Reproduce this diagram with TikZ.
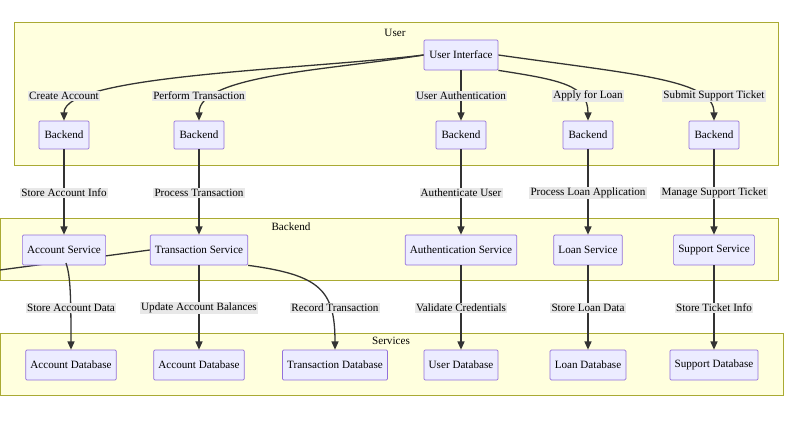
\documentclass[tikz,border=0pt]{standalone}
\usepackage{fontspec}
\setmainfont{Liberation Serif}
\usetikzlibrary{arrows.meta}
\definecolor{clfill}{HTML}{FFFFDE}
\definecolor{cldraw}{HTML}{AAAA33}
\definecolor{nfill}{HTML}{ECECFF}
\definecolor{ndraw}{HTML}{9370DB}
\definecolor{lbl}{HTML}{E8E8E8}
\definecolor{ln}{HTML}{333333}
\pgfdeclarelayer{back}\pgfdeclarelayer{mid}
\pgfsetlayers{back,mid,main}
\begin{document}
\begin{tikzpicture}[x=0.03cm,y=-0.03cm,
  cl/.style={draw=cldraw,fill=clfill,line width=0.5pt},
  nd/.style={draw=ndraw,fill=nfill,line width=0.6pt,rounded corners=1pt,minimum height=28*0.03cm,inner xsep=4pt,font=\fontsize{9.5}{11}\selectfont},
  el/.style={fill=lbl,inner sep=1pt,font=\fontsize{9.5}{11}\selectfont},
  ct/.style={font=\fontsize{9.5}{11}\selectfont},
  e/.style={draw=ln,line width=1.1pt,-{Triangle[length=7pt,width=6pt]}},
  p/.style={draw=ln,line width=1.1pt}]
\useasboundingbox (0,0) rectangle (800,438);
\begin{pgfonlayer}{back}
\draw[cl] (14,22) rectangle (778,165);
\draw[cl] (0,218) rectangle (778,280);
\draw[cl] (0,333) rectangle (783,395);
\end{pgfonlayer}
\node[ct] (tU) at (395,33) {User};
\node[ct] (tB) at (291,227) {Backend};
\node[ct] (tS) at (391,341) {Services};

\node[nd,minimum width=74*0.03cm,minimum height=30*0.03cm] (ui) at (461,55) {User Interface};
\foreach \n/\x in {b1/64,b2/199,b3/461,b4/588,b5/714}
  \node[nd,minimum width=50*0.03cm] (\n) at (\x,135) {Backend};
\node[nd,minimum height=30*0.03cm] (s1) at (64,250) {Account Service};
\node[nd,minimum height=30*0.03cm] (s2) at (199,250) {Transaction Service};
\node[nd,minimum height=30*0.03cm] (s3) at (461,250) {Authentication Service};
\node[nd,minimum height=30*0.03cm] (s4) at (588,250) {Loan Service};
\node[nd,minimum height=30*0.03cm] (s5) at (714,250) {Support Service};
\node[nd,minimum height=30*0.03cm] (d1) at (71,365) {Account Database};
\node[nd,minimum height=30*0.03cm] (d2) at (199,365) {Account Database};
\node[nd,minimum height=30*0.03cm] (d3) at (335,365) {Transaction Database};
\node[nd,minimum height=30*0.03cm] (d4) at (461,365) {User Database};
\node[nd,minimum height=30*0.03cm] (d5) at (588,365) {Loan Database};
\node[nd,minimum height=30*0.03cm] (d6) at (714,365) {Support Database};

% top edges
\draw[e] (ui.west) .. controls (300,70) and (64,75) .. (b1.north);
\draw[e] (ui.west) .. controls (330,70) and (199,75) .. (b2.north);
\draw[e] (ui.south) -- (b3.north);
\draw[e] (ui.south east) .. controls (560,80) and (588,85) .. (b4.north);
\draw[e] (ui.east) .. controls (640,75) and (714,80) .. (b5.north);
\node[el] (l1) at (64,96) {Create Account};
\node[el] (l2) at (199,96) {Perform Transaction};
\node[el] (l3) at (461,96) {User Authentication};
\node[el] (l4) at (588,96) {Apply for Loan};
\node[el] (l5) at (714,96) {Submit Support Ticket};

% middle
\foreach \a/\b in {b1/s1,b2/s2,b3/s3,b4/s4,b5/s5} \draw[e] (\a) -- (\b);
\node[el] (m1) at (64,193) {Store Account Info};
\node[el] (m2) at (199,193) {Process Transaction};
\node[el] (m3) at (461,193) {Authenticate User};
\node[el] (m4) at (588,193) {Process Loan Application};
\node[el] (m5) at (714,193) {Manage Support Ticket};

% bottom
\coordinate (off) at (0,270);
\coordinate (j) at (66,263);
\begin{pgfonlayer}{mid}
\draw[p] (s2.west) -- (off);
\end{pgfonlayer}
\draw[e] (j) .. controls (70,275) and (71,290) .. (d1.north);
\draw[e] (s2) -- (d2);
\draw[e] (s2.south east) .. controls (320,275) and (335,290) .. (d3.north);
\draw[e] (s3) -- (d4);
\draw[e] (s4) -- (d5);
\draw[e] (s5) -- (d6);
\node[el] (n1) at (71,308) {Store Account Data};
\node[el] (n2) at (199,308) {Update Account Balances};
\node[el] (n3) at (335,308) {Record Transaction};
\node[el] (n4) at (461,308) {Validate Credentials};
\node[el] (n5) at (588,308) {Store Loan Data};
\node[el] (n6) at (714,308) {Store Ticket Info};
\end{tikzpicture}
\end{document}
